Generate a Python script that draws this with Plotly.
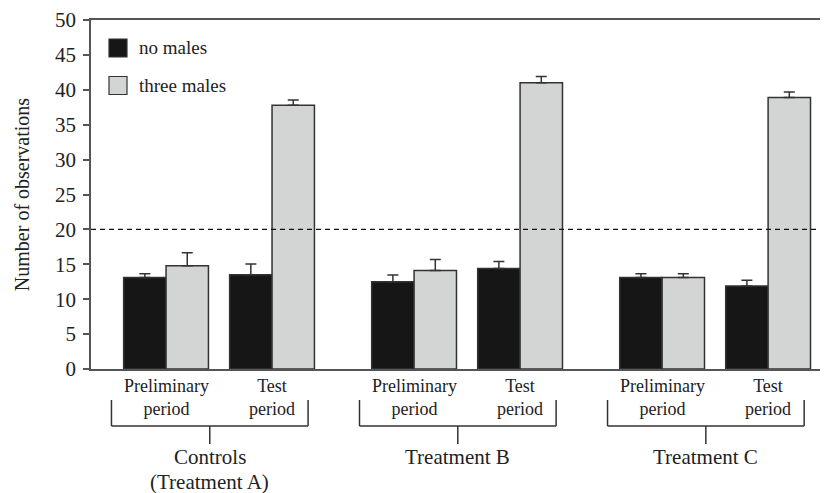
import plotly.graph_objects as go

groups = ["Controls<br>(Treatment A)", "Treatment B", "Treatment C"]
periods = ["Preliminary<br>period", "Test<br>period"]
series_names = ["no males", "three males"]

# values per (group, period) in order: A-prelim, A-test, B-prelim, B-test, C-prelim, C-test
no_males = [13.1, 13.5, 12.5, 14.4, 13.1, 11.9]
no_males_err = [0.55, 1.55, 0.95, 1.0, 0.55, 0.8]
three_males = [14.8, 37.8, 14.1, 41.0, 13.1, 38.9]
three_males_err = [1.85, 0.75, 1.6, 0.9, 0.55, 0.8]
reference_level = 20

y_ticks = [0, 5, 10, 15, 20, 25, 30, 35, 40, 45, 50]

GROUP_STEP = 2.34
BAR_W = 0.4
FONT = "Times New Roman, Liberation Serif, Tinos, DejaVu Serif, serif"

centers = []
for g in range(len(groups)):
    for p in range(len(periods)):
        centers.append(g * GROUP_STEP + p)

x_black = [c - BAR_W / 2 for c in centers]
x_gray = [c + BAR_W / 2 for c in centers]

fig = go.Figure()
fig.add_trace(go.Bar(
    x=x_black, y=no_males, width=BAR_W, name=series_names[0],
    marker=dict(color="#161616", line=dict(color="#333333", width=1.5)),
    error_y=dict(type="data", array=no_males_err, arrayminus=[0] * 6, symmetric=False,
                 color="#333333", thickness=1.5, width=5.5),
    showlegend=False,
))
fig.add_trace(go.Bar(
    x=x_gray, y=three_males, width=BAR_W, name=series_names[1],
    marker=dict(color="#d3d4d4", line=dict(color="#333333", width=1.5)),
    error_y=dict(type="data", array=three_males_err, arrayminus=[0] * 6, symmetric=False,
                 color="#333333", thickness=1.5, width=5.5),
    showlegend=False,
))

shapes = []
annotations = []

# dashed reference line
shapes.append(dict(type="line", xref="paper", yref="y", x0=0, x1=1,
                   y0=reference_level, y1=reference_level,
                   line=dict(color="#111111", width=1.3, dash="5px,4px")))

# page has an 8px body margin; plot area in screen pixels
TOP, BOTTOM = 20, 369
LEFT, RIGHT = 91, 828
PH = BOTTOM - TOP
PW = RIGHT - LEFT
def py(pix):
    return (BOTTOM - pix) / PH
def px(pix):
    return (pix - LEFT) / PW

# period labels
for i, c in enumerate(centers):
    annotations.append(dict(x=c, y=py(397), xref="x", yref="paper",
                            text=periods[i % 2], showarrow=False,
                            font=dict(family=FONT, size=18, color="#222222"),
                            xanchor="center", yanchor="middle", align="center"))

# brackets and group labels
for g, name in enumerate(groups):
    start = g * GROUP_STEP
    left = start - 0.515
    right = start + 1.34
    mid = (left + right) / 2
    line = dict(color="#333333", width=1.5)
    shapes.append(dict(type="line", xref="x", yref="paper", x0=left, x1=left,
                       y0=py(400), y1=py(426), line=line))
    shapes.append(dict(type="line", xref="x", yref="paper", x0=right, x1=right,
                       y0=py(400), y1=py(426), line=line))
    shapes.append(dict(type="line", xref="x", yref="paper", x0=left, x1=right,
                       y0=py(426), y1=py(426), line=line))
    shapes.append(dict(type="line", xref="x", yref="paper", x0=mid, x1=mid,
                       y0=py(426), y1=py(444), line=line))
    for k, part in enumerate(name.split("<br>")):
        annotations.append(dict(x=mid, y=py(457 + 25 * k), xref="x", yref="paper",
                                text=part, showarrow=False,
                                font=dict(family=FONT, size=21, color="#222222"),
                                xanchor="center", yanchor="middle", align="center"))

# custom legend
legend_colors = ["#161616", "#d3d4d4"]
legend_y = [48, 85.5]
for name, col, ly in zip(series_names, legend_colors, legend_y):
    shapes.append(dict(type="rect", xref="paper", yref="paper",
                       x0=px(109), x1=px(127),
                       y0=py(ly + 9), y1=py(ly - 9),
                       fillcolor=col, line=dict(color="#333333", width=1.2)))
    annotations.append(dict(x=px(137), y=py(ly), xref="paper", yref="paper",
                            text=name, showarrow=False,
                            font=dict(family=FONT, size=19, color="#222222"),
                            xanchor="left", yanchor="middle"))

OFF = 8
fig.update_layout(
    width=828 - OFF, height=493 - OFF,
    margin=dict(l=LEFT - OFF, r=0, t=TOP - OFF, b=493 - BOTTOM, pad=0),
    paper_bgcolor="white", plot_bgcolor="white",
    barmode="overlay",
    shapes=shapes, annotations=annotations,
    font=dict(family=FONT, color="#222222"),
    xaxis=dict(range=[-0.708, 6.245], showgrid=False, zeroline=False,
               showticklabels=False, ticks="", showline=True, mirror=True,
               linecolor="#555555", linewidth=1.5),
    yaxis=dict(range=[0, 50], tickvals=y_ticks, showgrid=False, zeroline=False,
               ticks="outside", ticklen=6, tickwidth=1.5, tickcolor="#555555",
               showline=True, linecolor="#555555", linewidth=1.5,
               tickfont=dict(family=FONT, size=21, color="#222222"),
               ticklabelstandoff=3,
               title=dict(text="Number of observations", standoff=20,
                          font=dict(family=FONT, size=20, color="#222222"))),
)

fig.write_html("out.html")
